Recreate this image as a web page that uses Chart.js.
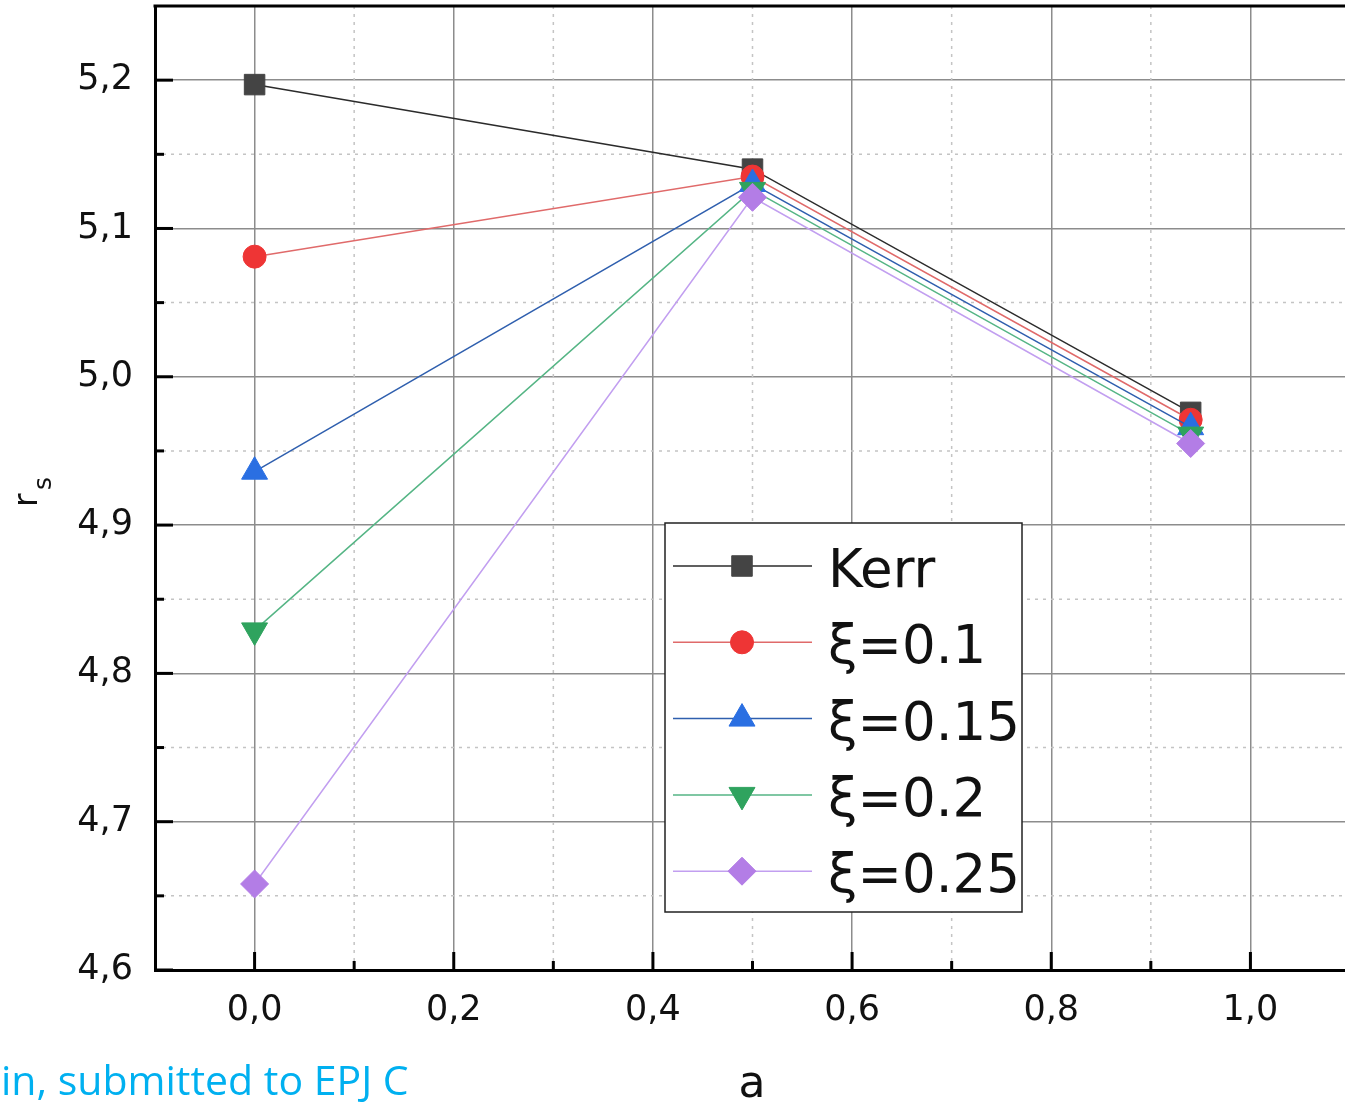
<!DOCTYPE html>
<html>
<head>
  <title>r_s versus a</title>
  <script src="https://cdn.jsdelivr.net/npm/chart.js"></script>
  <style>
    html, body {
      margin: 0;
      padding: 0;
      background: #fff;
      overflow: hidden;
    }

    #wrap {
      position: relative;
      width: 1400px;
      height: 1102px;
    }
  </style>
</head>
<body>
  <div id="wrap">
    <canvas id="rsChart" width="1400" height="1102"></canvas>
  </div>

  <script>
    // spin parameter a and the r_s values
    const aValues = [0, 0.5, 0.94];
    const kerrRs = [5.197, 5.140, 4.976];
    const xi010Rs = [5.081, 5.135, 4.971];
    const xi015Rs = [4.936, 5.130, 4.966];
    const xi020Rs = [4.829, 5.126, 4.961];
    const xi025Rs = [4.658, 5.121, 4.955];

    const seriesLabels = ["Kerr", "ξ=0.1", "ξ=0.15", "ξ=0.2", "ξ=0.25"];

    const xTickValues = [0, 0.2, 0.4, 0.6, 0.8, 1.0];
    const yTickValues = [4.6, 4.7, 4.8, 4.9, 5.0, 5.1, 5.2];
    const xMinorValues = [0.1, 0.3, 0.5, 0.7, 0.9];
    const yMinorValues = [4.65, 4.75, 4.85, 4.95, 5.05, 5.15];

    const seriesValues = [kerrRs, xi010Rs, xi015Rs, xi020Rs, xi025Rs];
    const markerColors = ["#444444", "#ee3535", "#2a6fe2", "#2fa35e", "#b37de6"];
    const lineColors = ["#2b2b2b", "#e06a6a", "#2f5fae", "#55b585", "#c29ff0"];
    const markerStyles = [
      { pointStyle: "rect", radius: 14.5, rotation: 0 },
      { pointStyle: "circle", radius: 11.5, rotation: 0 },
      { pointStyle: "triangle", radius: 15, rotation: 0 },
      { pointStyle: "triangle", radius: 15, rotation: 180 },
      { pointStyle: "rectRot", radius: 14, rotation: 0 },
    ];

    const FONT = "'DejaVu Sans', Arial, sans-serif";
    const fmt = v => v.toFixed(1).replace(".", ",");

    const datasets = seriesValues.map((vals, i) => ({
      label: seriesLabels[i],
      data: aValues.map((a, j) => ({ x: a, y: vals[j] })),
      borderColor: lineColors[i],
      borderWidth: 1.5,
      pointStyle: markerStyles[i].pointStyle,
      pointRotation: markerStyles[i].rotation,
      pointRadius: markerStyles[i].radius,
      pointBackgroundColor: markerColors[i],
      pointBorderColor: markerColors[i],
      pointBorderWidth: 1,
      order: seriesValues.length - 1 - i,
    }));

    function line(ctx, x1, y1, x2, y2) {
      ctx.beginPath();
      ctx.moveTo(x1, y1);
      ctx.lineTo(x2, y2);
      ctx.stroke();
    }

    const decorPlugin = {
      id: "decor",
      beforeDatasetsDraw(chart) {
        const { ctx, chartArea: area, scales: { x, y } } = chart;
        ctx.save();

        // dotted minor grid
        ctx.strokeStyle = "#c4c4c4";
        ctx.lineWidth = 1.5;
        ctx.setLineDash([3, 5]);
        xMinorValues.forEach(v => {
          const px = x.getPixelForValue(v);
          line(ctx, px, area.top, px, area.bottom);
        });
        yMinorValues.forEach(v => {
          const py = y.getPixelForValue(v);
          line(ctx, area.left, py, area.right, py);
        });
        ctx.setLineDash([]);

        // inward ticks
        ctx.strokeStyle = "#000";
        ctx.lineWidth = 3;
        xTickValues.forEach(v => {
          const px = x.getPixelForValue(v);
          line(ctx, px, area.bottom, px, area.bottom - 18);
        });
        xMinorValues.forEach(v => {
          const px = x.getPixelForValue(v);
          line(ctx, px, area.bottom, px, area.bottom - 9);
        });
        yTickValues.forEach(v => {
          const py = y.getPixelForValue(v);
          line(ctx, area.left, py, area.left + 18, py);
        });
        yMinorValues.forEach(v => {
          const py = y.getPixelForValue(v);
          line(ctx, area.left, py, area.left + 9, py);
        });
        ctx.restore();
      },
      afterDraw(chart) {
        const { ctx, chartArea: area } = chart;
        ctx.save();

        // top and right frame
        ctx.strokeStyle = "#000";
        ctx.lineWidth = 3;
        line(ctx, area.left - 1.5, area.top, area.right + 1.5, area.top);
        line(ctx, area.right, area.top, area.right, area.bottom);

        // legend
        const box = { x: 665, y: 523, w: 357, h: 389 };
        ctx.fillStyle = "#fff";
        ctx.fillRect(box.x, box.y, box.w, box.h);
        ctx.strokeStyle = "#222";
        ctx.lineWidth = 1.5;
        ctx.strokeRect(box.x, box.y, box.w, box.h);
        ctx.font = "53px " + FONT;
        ctx.textAlign = "left";
        ctx.textBaseline = "alphabetic";
        seriesLabels.forEach((label, i) => {
          const rowY = 566 + i * 76.3;
          ctx.strokeStyle = lineColors[i];
          ctx.lineWidth = 1.5;
          line(ctx, 673, rowY, 812, rowY);
          ctx.fillStyle = markerColors[i];
          ctx.strokeStyle = markerColors[i];
          ctx.lineWidth = 1;
          Chart.helpers.drawPoint(ctx, {
            pointStyle: markerStyles[i].pointStyle,
            rotation: markerStyles[i].rotation,
            radius: markerStyles[i].radius,
            borderWidth: 1,
          }, 742, rowY);
          ctx.fillStyle = "#111";
          ctx.fillText(label, 828, rowY + 21);
        });

        // axis titles
        ctx.fillStyle = "#111";
        ctx.font = "44px " + FONT;
        ctx.textAlign = "center";
        ctx.fillText("a", 752, 1097);

        ctx.translate(37, 507);
        ctx.rotate(-Math.PI / 2);
        ctx.textAlign = "left";
        ctx.font = "33px " + FONT;
        ctx.fillText("r", 0, 0);
        ctx.font = "25px " + FONT;
        ctx.fillText("s", 17, 14);
        ctx.setTransform(1, 0, 0, 1, 0, 0);

        // caption under the figure
        ctx.fillStyle = "#00b0f0";
        ctx.font = "41px 'Open Sans', Lato, sans-serif";
        ctx.textAlign = "left";
        ctx.fillText("in, submitted to EPJ C", 1, 1095);
        ctx.restore();
      },
    };

    new Chart(document.getElementById("rsChart").getContext("2d"), {
      type: "line",
      data: { datasets },
      options: {
        responsive: false,
        animation: false,
        layout: { autoPadding: false, padding: { top: 6, right: 50, left: 0, bottom: 0 } },
        plugins: {
          legend: { display: false },
          tooltip: { enabled: false },
        },
        scales: {
          x: {
            type: "linear",
            min: -0.1,
            max: 1.1,
            afterBuildTicks: s => { s.ticks = xTickValues.map(v => ({ value: v })); },
            afterFit: s => { s.height = 132; },
            ticks: {
              callback: v => fmt(v),
              font: { family: FONT, size: 35 },
              color: "#111",
              padding: 20,
              maxRotation: 0,
              autoSkip: false,
            },
            grid: { color: "#8c8c8c", lineWidth: 1.5, drawTicks: false },
            border: { color: "#000", width: 3 },
          },
          y: {
            min: 4.6,
            max: 5.25,
            afterBuildTicks: s => { s.ticks = yTickValues.map(v => ({ value: v })); },
            afterFit: s => {
              s.width = 155;
              s.paddingTop = 0;
              s.paddingBottom = 0;
            },
            ticks: {
              callback: v => fmt(v),
              font: { family: FONT, size: 35 },
              color: "#111",
              padding: 22,
              autoSkip: false,
            },
            grid: { color: "#8c8c8c", lineWidth: 1.5, drawTicks: false },
            border: { color: "#000", width: 3 },
          },
        },
      },
      plugins: [decorPlugin],
    });
  </script>
</body>
</html>
